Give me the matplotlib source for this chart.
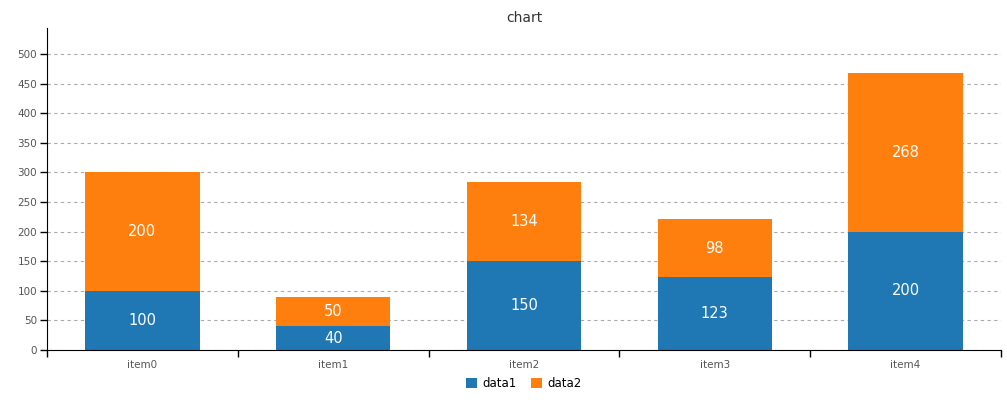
import numpy as np
import matplotlib.pyplot as plt

categories = ["item0", "item1", "item2", "item3", "item4"]
data1 = [100, 40, 150, 123, 200]
data2 = [200, 50, 134, 98, 268]

plt.rcParams['font.family'] = ['Verdana', 'DejaVu Sans']

fig = plt.figure(figsize=(10.07, 4.11), dpi=100)
ax = fig.add_axes([47/1007, 61/411, 954/1007, 322/411])

x = np.arange(len(categories))
w = 0.6
b1 = ax.bar(x, data1, w, color="#1f77b4", label="data1", zorder=2)
b2 = ax.bar(x, data2, w, bottom=data1, color="#ff7f0e", label="data2", zorder=2)

# value labels inside the bars
for i in range(len(categories)):
    ax.text(x[i], data1[i] / 2, str(data1[i]), ha="center", va="center",
            color="white", fontsize=10.5)
    ax.text(x[i], data1[i] + data2[i] / 2, str(data2[i]), ha="center", va="center",
            color="white", fontsize=10.5)

ax.set_xlim(-0.5, len(categories) - 0.5)
ax.set_ylim(0, 544)
ax.set_yticks(range(0, 501, 50))
ax.yaxis.grid(True, linestyle=(0, (3, 3)), color="#aaaaaa", linewidth=0.8, zorder=0)

ax.set_xticks(np.arange(-0.5, len(categories)), labels=[""] * (len(categories) + 1))
ax.set_xticks(x, labels=categories, minor=True)
ax.tick_params(axis="both", which="both", labelsize=7.5, labelcolor="#555555", width=1)
ax.tick_params(axis="x", which="minor", length=0, pad=7)
ax.tick_params(axis="x", which="major", length=5)
ax.tick_params(axis="y", length=5, pad=2)

for s in ["top", "right"]:
    ax.spines[s].set_visible(False)

ax.set_title("chart", fontsize=10, color="#333333", pad=4)

ax.legend(loc="upper center", bbox_to_anchor=(0.5, -0.05), ncol=2, frameon=False,
          fontsize=8.5, handlelength=0.9, handleheight=0.9, columnspacing=1.2,
          handletextpad=0.5)

fig.savefig("out.png")
